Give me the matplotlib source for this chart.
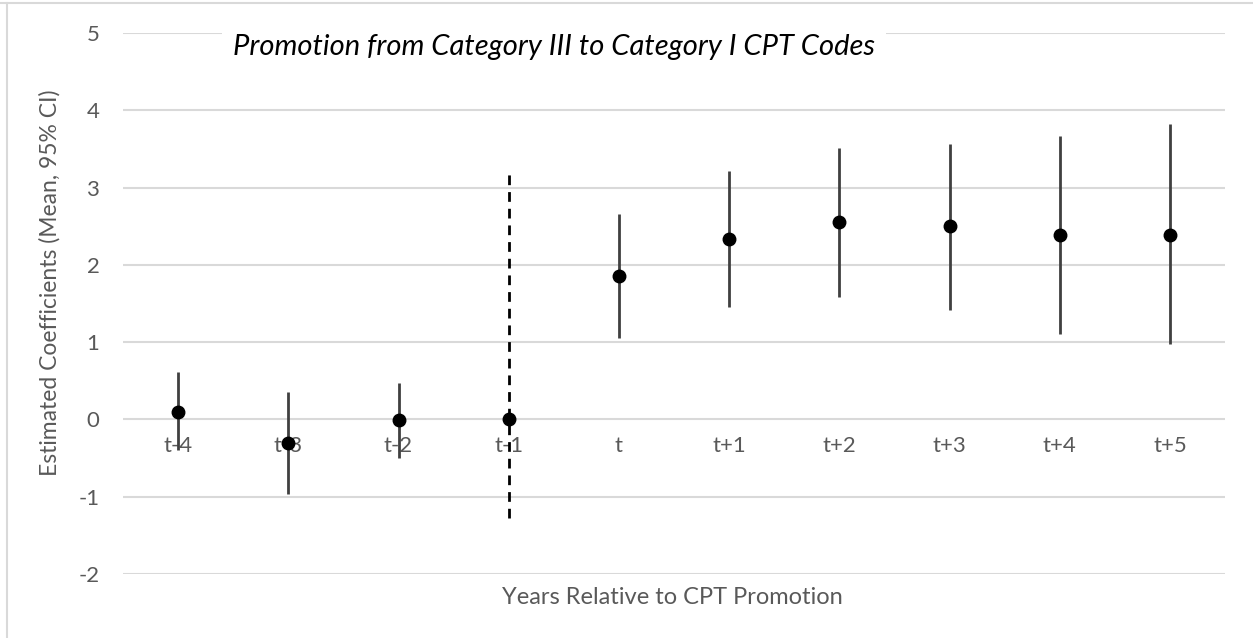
import matplotlib
matplotlib.use("Agg")
import matplotlib.pyplot as plt
from matplotlib.lines import Line2D

# data
periods = ["t-4", "t-3", "t-2", "t-1", "t", "t+1", "t+2", "t+3", "t+4", "t+5"]
coef = [0.10, -0.30, -0.01, 0.00, 1.85, 2.34, 2.55, 2.50, 2.38, 2.39]
ci_low = [-0.40, -0.96, -0.50, 0.00, 1.05, 1.46, 1.58, 1.42, 1.10, 0.97]
ci_high = [0.61, 0.35, 0.47, 0.00, 2.66, 3.21, 3.51, 3.57, 3.67, 3.82]
yticks = [-2, -1, 0, 1, 2, 3, 4, 5]
event_idx = 3
event_span = (-1.27, 3.18)

plt.rcParams['font.family'] = ['Lato', 'DejaVu Sans']
plt.rcParams['axes.unicode_minus'] = False
gray_txt = '#595959'

fig = plt.figure(figsize=(12.53, 6.38), dpi=100)
ax = fig.add_axes([123/1253, 1-574/638, 1102/1253, 541/638])

x = list(range(len(periods)))
err_lo = [c - l for c, l in zip(coef, ci_low)]
err_hi = [h - c for c, h in zip(coef, ci_high)]
ax.errorbar(x, coef, yerr=[err_lo, err_hi], fmt='none', ecolor='#404040',
            elinewidth=2, capsize=0, zorder=2)
ax.plot(x, coef, 'o', color='black', markersize=9, zorder=4)

# vertical dashed marker at the promotion year
ax.vlines(x[event_idx], event_span[0], event_span[1], colors='black',
          linestyles=(0, (3.5, 2.5)), linewidth=2, zorder=3)

ax.set_xlim(-0.5, len(periods) - 0.5)
ax.set_ylim(-2, 5)
ax.set_yticks(yticks)
ax.set_xticks(x)
ax.set_xticklabels(periods)
ax.yaxis.grid(True, color='#d9d9d9', linewidth=1.5)
ax.set_axisbelow('line')
for s in ['top', 'right', 'left']:
    ax.spines[s].set_visible(False)
ax.spines['bottom'].set_position(('data', 0))
ax.spines['bottom'].set_visible(False)
ax.tick_params(axis='x', length=0, pad=12, labelsize=16, labelcolor=gray_txt)
ax.tick_params(axis='y', length=0, pad=17, labelsize=16, labelcolor=gray_txt)

fig.text(50/1253, 1-283/638, "Estimated Coefficients (Mean, 95% CI)",
         rotation=90, ha='center', va='center', fontsize=16.5, color=gray_txt)
fig.text(672/1253, 1-598/638, "Years Relative to CPT Promotion",
         ha='center', va='center', fontsize=17, color=gray_txt)
fig.text(554/1253, 1-47/638, "Promotion from Category III to Category I CPT Codes",
         ha='center', va='center', fontsize=21, style='italic', color='black',
         bbox=dict(facecolor='white', edgecolor='none', pad=8))

# light frame around the chart area
fig.add_artist(Line2D([7/1253, 7/1253], [0, 1-3/638], color='#d9d9d9', linewidth=1.5))
fig.add_artist(Line2D([0, 1], [1-3/638, 1-3/638], color='#d9d9d9', linewidth=1.5))

fig.savefig("out.png", dpi=100)
